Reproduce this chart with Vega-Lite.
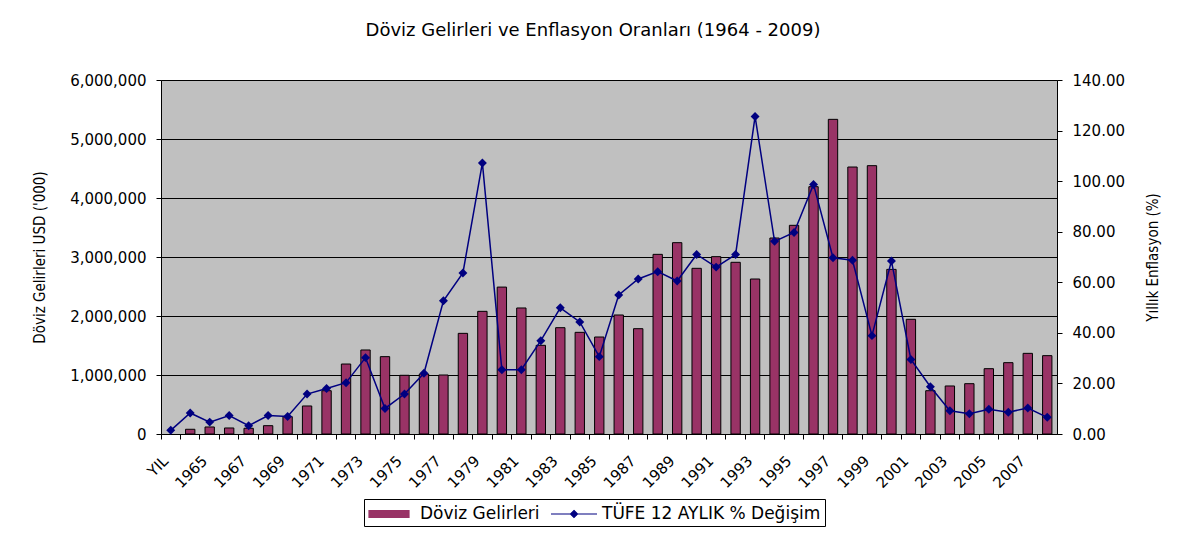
{
  "$schema": "https://vega.github.io/schema/vega-lite/v6.json",
  "autosize": {"type": "none"},
  "width": 896,
  "height": 354,
  "padding": {"left": 161, "top": 80, "right": 124, "bottom": 100},
  "background": "white",
  "title": {
    "text": "Döviz Gelirleri ve Enflasyon Oranları (1964 - 2009)",
    "font": "DejaVu Sans",
    "fontSize": 18,
    "fontWeight": "normal",
    "color": "black",
    "anchor": "middle",
    "frame": "group",
    "dx": -16,
    "offset": 33
  },
  "config": {
    "view": {"fill": "#C0C0C0", "stroke": "#808080", "strokeWidth": 1},
    "axis": {"labelFont": "DejaVu Sans", "labelColor": "black", "titleColor": "black", "domainColor": "black", "tickColor": "black"}
  },
  "data": {
    "values": [
      {"year": "YIL", "gelir": null, "tufe": 1.45},
      {"year": "1964", "gelir": 80000, "tufe": 8.3},
      {"year": "1965", "gelir": 119000, "tufe": 4.7},
      {"year": "1966", "gelir": 102000, "tufe": 7.3},
      {"year": "1967", "gelir": 97000, "tufe": 3.3},
      {"year": "1968", "gelir": 141000, "tufe": 7.3},
      {"year": "1969", "gelir": 294000, "tufe": 6.9},
      {"year": "1970", "gelir": 475000, "tufe": 15.8},
      {"year": "1971", "gelir": 734000, "tufe": 18.0},
      {"year": "1972", "gelir": 1186000, "tufe": 20.3},
      {"year": "1973", "gelir": 1424000, "tufe": 30.2},
      {"year": "1974", "gelir": 1311000, "tufe": 10.1},
      {"year": "1975", "gelir": 995000, "tufe": 15.8},
      {"year": "1976", "gelir": 1017000, "tufe": 24.0},
      {"year": "1977", "gelir": 1000000, "tufe": 52.7},
      {"year": "1978", "gelir": 1706000, "tufe": 63.7},
      {"year": "1979", "gelir": 2079000, "tufe": 107.2},
      {"year": "1980", "gelir": 2490000, "tufe": 25.4},
      {"year": "1981", "gelir": 2136000, "tufe": 25.4},
      {"year": "1982", "gelir": 1503000, "tufe": 36.9},
      {"year": "1983", "gelir": 1802000, "tufe": 49.9},
      {"year": "1984", "gelir": 1723000, "tufe": 44.3},
      {"year": "1985", "gelir": 1644000, "tufe": 30.6},
      {"year": "1986", "gelir": 2017000, "tufe": 55.0},
      {"year": "1987", "gelir": 1785000, "tufe": 61.3},
      {"year": "1988", "gelir": 3045000, "tufe": 64.2},
      {"year": "1989", "gelir": 3243000, "tufe": 60.5},
      {"year": "1990", "gelir": 2808000, "tufe": 71.0},
      {"year": "1991", "gelir": 3006000, "tufe": 66.0},
      {"year": "1992", "gelir": 2910000, "tufe": 71.0},
      {"year": "1993", "gelir": 2627000, "tufe": 125.6},
      {"year": "1994", "gelir": 3322000, "tufe": 76.2},
      {"year": "1995", "gelir": 3537000, "tufe": 79.7},
      {"year": "1996", "gelir": 4192000, "tufe": 98.7},
      {"year": "1997", "gelir": 5333000, "tufe": 69.7},
      {"year": "1998", "gelir": 4525000, "tufe": 68.7},
      {"year": "1999", "gelir": 4548000, "tufe": 38.9},
      {"year": "2000", "gelir": 2790000, "tufe": 68.4},
      {"year": "2001", "gelir": 1944000, "tufe": 29.5},
      {"year": "2002", "gelir": 734000, "tufe": 18.7},
      {"year": "2003", "gelir": 814000, "tufe": 9.2},
      {"year": "2004", "gelir": 853000, "tufe": 8.0},
      {"year": "2005", "gelir": 1107000, "tufe": 9.8},
      {"year": "2006", "gelir": 1209000, "tufe": 8.6},
      {"year": "2007", "gelir": 1367000, "tufe": 10.3},
      {"year": "2008", "gelir": 1328000, "tufe": 6.6}
    ]
  },
  "encoding": {
    "x": {
      "field": "year",
      "type": "nominal",
      "sort": ["YIL", "1964", "1965", "1966", "1967", "1968", "1969", "1970", "1971", "1972", "1973", "1974", "1975", "1976", "1977", "1978", "1979", "1980", "1981", "1982", "1983", "1984", "1985", "1986", "1987", "1988", "1989", "1990", "1991", "1992", "1993", "1994", "1995", "1996", "1997", "1998", "1999", "2000", "2001", "2002", "2003", "2004", "2005", "2006", "2007", "2008"],
      "scale": {"paddingInner": 0, "paddingOuter": 0},
      "axis": {
        "title": null,
        "bandPosition": 0,
        "labelAngle": -45,
        "labelAlign": "right",
        "labelBaseline": "top",
        "labelFontSize": 15,
        "labelPadding": 14,
        "labelOffset": -10,
        "tickSize": 5,
        "labelExpr": "datum.value == 'YIL' || toNumber(datum.value) % 2 == 1 ? datum.value : ''",
        "grid": false
      }
    }
  },
  "layer": [
    {
      "encoding": {
        "y": {
          "field": "gelir",
          "type": "quantitative",
          "scale": {"domain": [0, 6000000], "nice": false},
          "axis": {
            "title": "Döviz Gelirleri USD ('000)",
            "titleFont": "Liberation Sans Narrow, DejaVu Sans Condensed, sans-serif",
            "titleFontSize": 15,
            "titleFontWeight": "normal",
            "titlePadding": 22,
            "values": [0, 1000000, 2000000, 3000000, 4000000, 5000000, 6000000],
            "format": ",d",
            "labelFontSize": 15,
            "labelPadding": 10,
            "tickSize": 5,
            "grid": true,
            "gridColor": "black",
            "gridOpacity": 1
          }
        }
      },
      "layer": [
        {
          "mark": {"type": "bar", "width": {"band": 0.48}},
          "encoding": {
            "color": {
              "datum": "Döviz Gelirleri",
              "type": "nominal",
              "scale": {"domain": ["Döviz Gelirleri", "TÜFE 12 AYLIK % Değişim"], "range": ["#993366", "#000080"]},
              "legend": {
                "title": null,
                "orient": "none",
                "legendX": 203,
                "legendY": 419,
                "direction": "horizontal",
                "strokeColor": "black",
                "fillColor": "white",
                "padding": 4,
                "columnPadding": 8,
                "symbolSize": 400,
                "symbolType": {"expr": "datum.value === 'Döviz Gelirleri' ? 'M-1,-0.35H3V0.35H-1Z' : 'M-1,0H3.6M1.3,-0.35L1.65,0L1.3,0.35L0.95,0Z'"},
                "symbolStrokeColor": {"expr": "datum.value === 'Döviz Gelirleri' ? '#000000' : '#000080'"},
                "symbolStrokeWidth": 1.2,
                "labelFont": "DejaVu Sans",
                "labelFontSize": 17,
                "labelColor": "black",
                "labelOffset": 30,
                "labelLimit": 400
              }
            }
          }
        },
        {
          "mark": {"type": "bar", "width": {"band": 0.48}, "fill": "transparent", "stroke": "black", "strokeWidth": 1}
        }
      ]
    },
    {
      "encoding": {
        "y": {
          "field": "tufe",
          "type": "quantitative",
          "scale": {"domain": [0, 140], "nice": false},
          "axis": {
            "orient": "right",
            "title": "Yıllık Enflasyon (%)",
            "titleAngle": -90,
            "titleFont": "Liberation Sans Narrow, DejaVu Sans Condensed, sans-serif",
            "titleFontSize": 15,
            "titleFontWeight": "normal",
            "titlePadding": 36,
            "values": [0, 20, 40, 60, 80, 100, 120, 140],
            "format": ".2f",
            "labelFontSize": 15,
            "labelPadding": 10,
            "tickSize": 5,
            "grid": false
          }
        },
        "color": {"datum": "TÜFE 12 AYLIK % Değişim", "type": "nominal", "legend": null}
      },
      "layer": [
        {"mark": {"type": "line", "strokeWidth": 1.5}},
        {"mark": {"type": "point", "shape": "diamond", "filled": true, "size": 80, "opacity": 1}}
      ]
    }
  ],
  "resolve": {"scale": {"y": "independent"}}
}
